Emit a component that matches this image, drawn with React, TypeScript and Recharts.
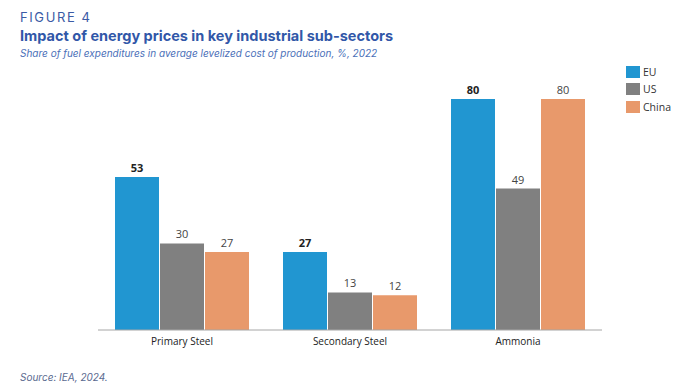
import React from "react";
import { BarChart, Bar, XAxis, YAxis, LabelList } from "recharts";

const categories = ["Primary Steel", "Secondary Steel", "Ammonia"];
const euValues = [53, 27, 80];
const usValues = [30, 13, 49];
const chinaValues = [27, 12, 80];
const seriesNames = ["EU", "US", "China"];
const seriesColors = ["#2196d1", "#808080", "#e8996b"];

const data = categories.map((c, i) => ({
  name: c,
  EU: euValues[i],
  US: usValues[i],
  China: chinaValues[i],
}));

const FONT = "'Open Sans', 'Liberation Sans', sans-serif";
const HEAD = "Inter, 'Noto Sans', sans-serif";

export default function App() {
  return (
    <div style={{ position: "absolute", left: 0, top: 0, width: 694, height: 388, background: "#fff" }}>
      <div style={{ position: "absolute", left: 20, top: 8, fontFamily: HEAD, fontSize: 13, letterSpacing: 1.6, color: "#3b5ba5", lineHeight: "18px" }}>
        FIGURE 4
      </div>
      <div style={{ position: "absolute", left: 20, top: 26, fontFamily: HEAD, fontSize: 14.5, fontWeight: 700, color: "#3157a8", lineHeight: "20px", whiteSpace: "nowrap" }}>
        Impact of energy prices in key industrial sub-sectors
      </div>
      <div style={{ position: "absolute", left: 20, top: 46, fontFamily: HEAD, fontSize: 10, fontStyle: "italic", color: "#4a6fb8", lineHeight: "14px", whiteSpace: "nowrap" }}>
        Share of fuel expenditures in average levelized cost of production, %, 2022
      </div>
      <div style={{ position: "absolute", left: 20, top: 370, fontFamily: HEAD, fontSize: 10, fontStyle: "italic", color: "#5a6a90", lineHeight: "14px" }}>
        Source: IEA, 2024.
      </div>
      <div style={{ position: "absolute", left: 626, top: 63, fontFamily: FONT, fontSize: 10.5, color: "#333" }}>
        {seriesNames.map((n, i) => (
          <div key={n} style={{ display: "flex", alignItems: "center", height: 17.5 }}>
            <div style={{ width: 14, height: 12, background: seriesColors[i], marginRight: 3 }} />
            <span>{n}</span>
          </div>
        ))}
      </div>
      <BarChart
        width={694}
        height={388}
        data={data}
        margin={{ top: 99, right: 92, bottom: 28, left: 98 }}
        barSize={44}
        barGap={1}
        style={{ position: "absolute", left: 0, top: 0 }}
      >
        <XAxis
          dataKey="name"
          tickLine={false}
          axisLine={{ stroke: "#a6a6a6" }}
          tick={{ fontFamily: FONT, fontSize: 10, fill: "#222" }}
          height={30}
        />
        <YAxis hide domain={[0, 80]} />
        <Bar dataKey="EU" fill={seriesColors[0]} isAnimationActive={false}>
          <LabelList dataKey="EU" position="top" style={{ fontFamily: FONT, fontSize: 11, fontWeight: 700, fill: "#222" }} />
        </Bar>
        <Bar dataKey="US" fill={seriesColors[1]} isAnimationActive={false}>
          <LabelList dataKey="US" position="top" style={{ fontFamily: FONT, fontSize: 11, fill: "#444" }} />
        </Bar>
        <Bar dataKey="China" fill={seriesColors[2]} isAnimationActive={false}>
          <LabelList dataKey="China" position="top" style={{ fontFamily: FONT, fontSize: 11, fill: "#444" }} />
        </Bar>
      </BarChart>
    </div>
  );
}
